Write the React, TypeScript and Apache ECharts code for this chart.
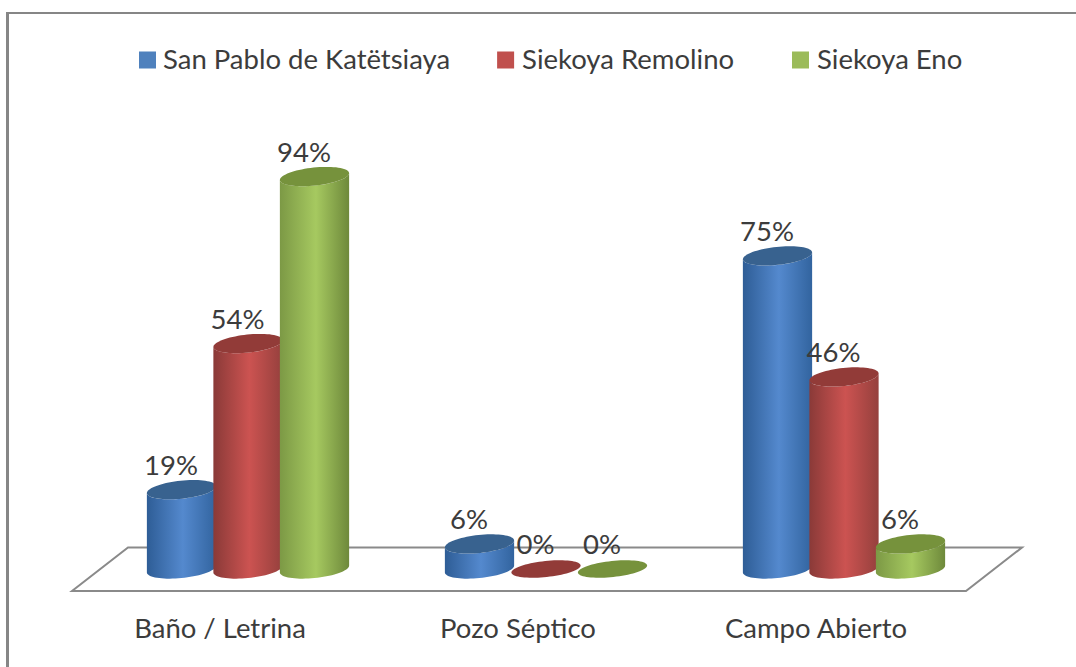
import React, { useEffect, useRef } from "react";
import * as echarts from "echarts";

const categories = ["Baño / Letrina", "Pozo Séptico", "Campo Abierto"];
const seriesNames = ["San Pablo de Katëtsiaya", "Siekoya Remolino", "Siekoya Eno"];
const sanPablo = [19, 6, 75];
const remolino = [54, 0, 46];
const eno = [94, 0, 6];
const seriesValues = [sanPablo, remolino, eno];

const legendColors = ["#4F81BD", "#C0504D", "#9BBB59"];
const sideStops = [
  ["#2E5D96", "#5489CE", "#32649F"],
  ["#8A3A38", "#CC5351", "#95403D"],
  ["#7C9945", "#A6C960", "#6E893B"],
];
const topColors = ["#38628F", "#923B38", "#76923C"];

const FONT = "Lato, Carlito, sans-serif";
const TEXT = "#3c3c3c";
const FONT_SIZE = 27.5;
const DEPTH_X = 27;
const DEPTH_Y = 22;
const RX = 34.8;
const RY = 9;
const RY_ZERO = 8;
const TILT = (-6 * Math.PI) / 180;
const SLOT = 66.5;
const LEGEND_ICON = "path://M0 0L17 0ZM0 4H17V21H0Z";

const ellipsePoint = (cx: number, cy: number, t: number, ry: number) => [
  cx + RX * Math.cos(t) * Math.cos(TILT) - ry * Math.sin(t) * Math.sin(TILT),
  cy + RX * Math.cos(t) * Math.sin(TILT) + ry * Math.sin(t) * Math.cos(TILT),
];

const ellipseShape = (cx: number, cy: number, ry: number) => {
  const pts: number[][] = [];
  for (let i = 0; i < 72; i++) pts.push(ellipsePoint(cx, cy, (i / 72) * 2 * Math.PI, ry));
  return pts;
};

const sideShape = (cx: number, topY: number, baseY: number) => {
  const t0 = Math.atan2(-RY * Math.sin(TILT), RX * Math.cos(TILT));
  const pts: number[][] = [];
  for (let i = 0; i <= 36; i++) pts.push(ellipsePoint(cx, baseY, t0 + (i / 36) * Math.PI, RY));
  for (let i = 0; i <= 36; i++) pts.push(ellipsePoint(cx, topY, t0 + Math.PI - (i / 36) * Math.PI, RY));
  return pts;
};

const cylinderSeries = (idx: number) => ({
  type: "custom",
  name: seriesNames[idx],
  coordinateSystem: "cartesian2d",
  z: 3 + idx,
  itemStyle: { color: legendColors[idx] },
  data: seriesValues[idx].map((v, i) => [i, v]),
  encode: { x: 0, y: 1 },
  renderItem: (_p: any, api: any) => {
    const cat = api.value(0);
    const val = api.value(1);
    const top = api.coord([cat, val]);
    const base = api.coord([cat, 0]);
    const cx = top[0] + DEPTH_X + (idx - 1) * SLOT;
    const topY = top[1] - DEPTH_Y;
    const baseY = base[1] - DEPTH_Y;
    const children: any[] = [];
    if (val > 0) {
      children.push({
        type: "polygon",
        shape: { points: sideShape(cx, topY, baseY) },
        style: {
          fill: new echarts.graphic.LinearGradient(0, 0, 1, 0, [
            { offset: 0, color: sideStops[idx][0] },
            { offset: 0.52, color: sideStops[idx][1] },
            { offset: 1, color: sideStops[idx][2] },
          ]),
        },
      });
    }
    children.push({
      type: "polygon",
      shape: { points: ellipseShape(cx, topY, val > 0 ? RY : RY_ZERO) },
      style: { fill: topColors[idx] },
    });
    children.push({
      type: "text",
      style: {
        text: `${val}%`,
        x: cx - 10.5,
        y: topY - 25.5,
        align: "center",
        verticalAlign: "middle",
        fill: TEXT,
        font: `${FONT_SIZE}px ${FONT}`,
      },
    });
    return { type: "group", children };
  },
});

const floorSeries = {
  type: "custom",
  name: "floor",
  coordinateSystem: "cartesian2d",
  z: 1,
  silent: true,
  data: [[0, 0]],
  encode: { x: 0, y: 1 },
  renderItem: (p: any) => {
    const { x, y, width, height } = p.coordSys;
    const frontY = y + height;
    const backY = frontY - 43.5;
    const shift = 56;
    return {
      type: "group",
      children: [
        {
          type: "polygon",
          shape: {
            points: [
              [x, frontY],
              [x + shift, backY],
              [x + width + shift, backY],
              [x + width, frontY],
            ],
          },
          style: { fill: "#ffffff", stroke: "#8a8a8a", lineWidth: 2, lineJoin: "miter" },
        },
      ],
    };
  },
};

const legendBase = {
  top: 39,
  itemWidth: 17,
  itemHeight: 21,
  itemGap: 47,
  icon: LEGEND_ICON,
  textStyle: { fontFamily: FONT, fontSize: FONT_SIZE, color: TEXT },
};

export default function App() {
  const ref = useRef<HTMLDivElement>(null);
  useEffect(() => {
    const chart = echarts.init(ref.current!, undefined, { renderer: "svg" });
    chart.setOption({
      animation: false,
      backgroundColor: "#ffffff",
      graphic: [
        { type: "rect", shape: { x: 7, y: 12, width: 1069, height: 2 }, style: { fill: "#868686" }, silent: true },
        { type: "rect", shape: { x: 6, y: 12, width: 3, height: 655 }, style: { fill: "#868686" }, silent: true },
      ],
      legend: [
        {
          ...legendBase,
          left: 134,
          data: [
            { name: seriesNames[0], textStyle: { padding: [0, 0, 0, 2] } },
            { name: seriesNames[1], textStyle: { padding: [0, 0, 0, 3] } },
          ],
        },
        {
          ...legendBase,
          left: 787,
          data: [{ name: seriesNames[2], textStyle: { padding: [0, 0, 0, 3] } }],
        },
      ],
      grid: { left: 72, top: 173.5, width: 894, height: 417.5 },
      xAxis: {
        type: "category",
        data: categories,
        axisLine: { show: false },
        axisTick: { show: false },
        axisLabel: { margin: 22, padding: [0, 2, 0, 0], fontFamily: FONT, fontSize: FONT_SIZE, color: TEXT },
      },
      yAxis: { type: "value", min: 0, max: 100, show: false, splitLine: { show: false } },
      series: [floorSeries, cylinderSeries(0), cylinderSeries(1), cylinderSeries(2)],
    });
    return () => chart.dispose();
  }, []);
  return <div ref={ref} style={{ position: "absolute", left: 0, top: 0, width: 1076, height: 667 }} />;
}
